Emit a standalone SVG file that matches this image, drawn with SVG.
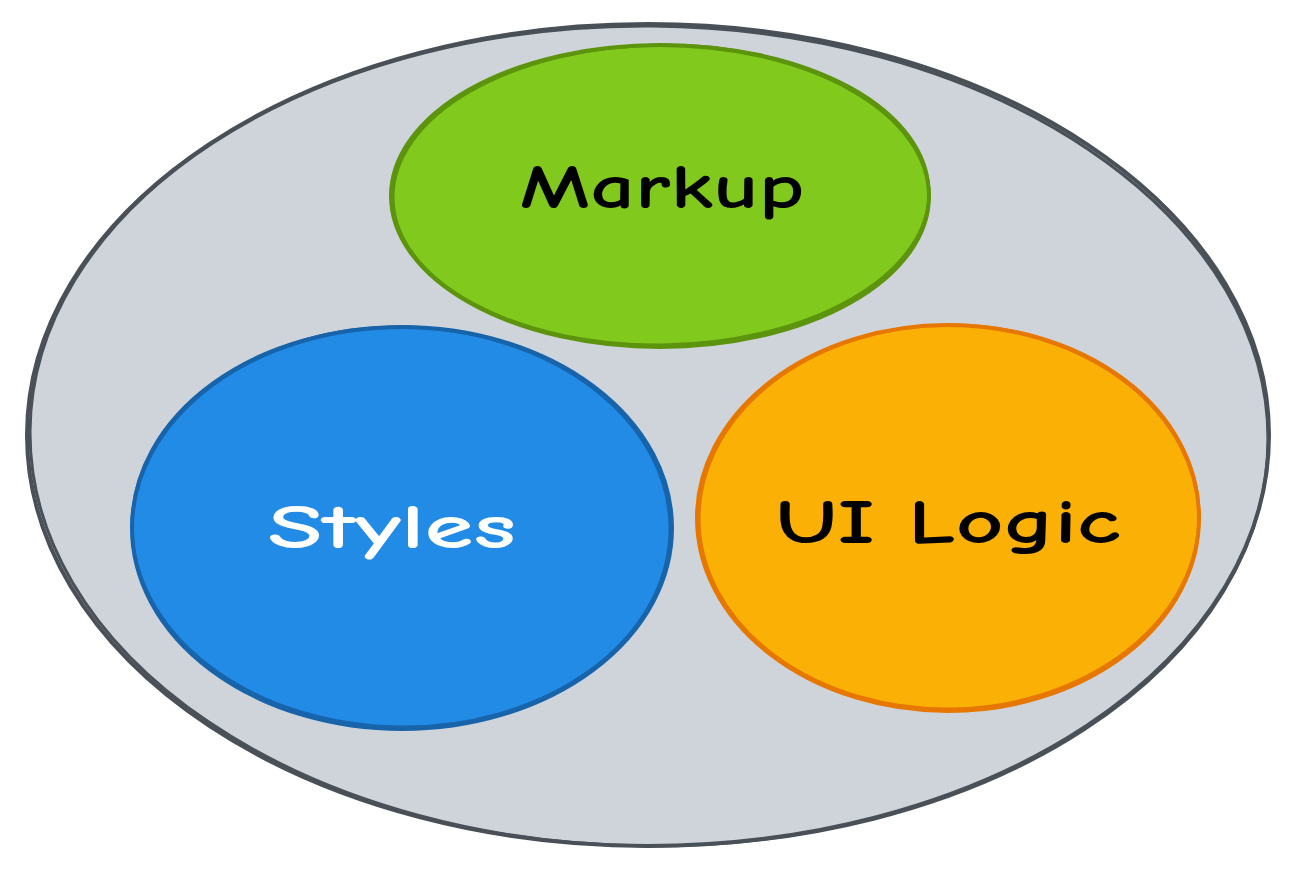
<svg xmlns="http://www.w3.org/2000/svg" width="1296" height="873" viewBox="0 0 1296 873">
<style>
.lbl{font-family:"Comic Neue","Liberation Sans","DejaVu Sans",sans-serif;font-size:62px;font-weight:bold;text-anchor:middle}
.sk{fill:none;stroke-width:4;stroke-linecap:round}
.sk2{fill:none;stroke-width:3;stroke-linecap:round}
</style>
<rect width="1296" height="873" fill="#ffffff"/>
<g id="outer">
<ellipse cx="648" cy="435" rx="620" ry="410" fill="#ced4da"/>
<ellipse class="sk" cx="648" cy="435" rx="621" ry="411" stroke="#495057"/>
<ellipse class="sk2" cx="649" cy="436" rx="619" ry="410" stroke="#495057" transform="rotate(0.5 649 436)"/>
</g>
<g id="markup">
<ellipse cx="660" cy="196" rx="268" ry="150" fill="#82c91e"/>
<ellipse class="sk" cx="660" cy="196" rx="269" ry="151" stroke="#5c940d"/>
<ellipse class="sk2" cx="661" cy="195" rx="268" ry="150" stroke="#5c940d" transform="rotate(-0.7 661 195)"/>
<text class="lbl" x="662" y="208" fill="#000000" textLength="285" lengthAdjust="spacingAndGlyphs">Markup</text>
</g>
<g id="styles">
<ellipse cx="402" cy="528" rx="269" ry="200" fill="#228be6"/>
<ellipse class="sk" cx="402" cy="528" rx="270" ry="201" stroke="#1864ab"/>
<ellipse class="sk2" cx="401" cy="527" rx="269" ry="200" stroke="#1864ab" transform="rotate(0.8 401 527)"/>
<text class="lbl" x="392" y="548" fill="#ffffff" textLength="248" lengthAdjust="spacingAndGlyphs">Styles</text>
</g>
<g id="uilogic">
<ellipse cx="948" cy="518" rx="250" ry="192" fill="#fab005"/>
<ellipse class="sk" cx="948" cy="518" rx="251" ry="193" stroke="#e67700"/>
<ellipse class="sk2" cx="949" cy="517" rx="250" ry="192" stroke="#e67700" transform="rotate(-0.8 949 517)"/>
<text class="lbl" x="948" y="543" fill="#000000" textLength="345" lengthAdjust="spacingAndGlyphs">UI Logic</text>
</g>
<g id="connectors"></g>
</svg>
